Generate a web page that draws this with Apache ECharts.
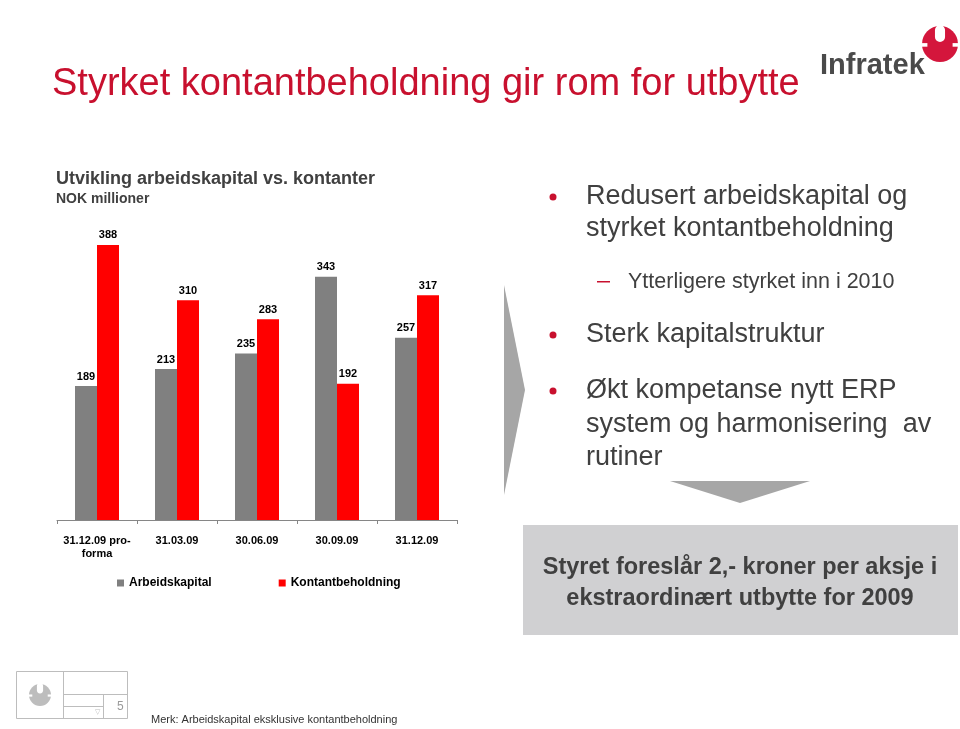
<!DOCTYPE html>
<html>
<head>
<meta charset="utf-8">
<script src="https://cdn.jsdelivr.net/npm/echarts@6/dist/echarts.min.js"></script>
<style>
html,body{margin:0;padding:0;background:#fff;}
#main{width:960px;height:729px;}
</style>
</head>
<body>
<div id="main"></div>
<script>
// ---- data ----
const categories = ['31.12.09 pro-\nforma', '31.03.09', '30.06.09', '30.09.09', '31.12.09'];
const arbeidskapital = [189, 213, 235, 343, 257];
const kontantbeholdning = [388, 310, 283, 192, 317];
const seriesNames = ['Arbeidskapital', 'Kontantbeholdning'];

const FONT = '"Liberation Sans", Arial, sans-serif';
const TXT = '#404040';
const RED = '#c8102e';

function txt(x, y, text, size, opts) {
  opts = opts || {};
  return {
    type: 'text', x: x, y: y, silent: true,
    style: Object.assign({
      text: text, fontFamily: FONT, fontSize: size, fill: opts.fill || TXT,
      fontWeight: opts.bold ? 'bold' : 'normal',
      align: opts.align || 'left', verticalAlign: 'middle'
    }, opts.style || {})
  };
}
function bullet(x, y) {
  return { type: 'circle', silent: true, shape: { cx: x, cy: y, r: 3.5 }, style: { fill: RED } };
}
function emblem(cx, cy, r, color) {
  return [
    { type: 'circle', silent: true, shape: { cx: cx, cy: cy, r: r }, style: { fill: color } },
    { type: 'rect', silent: true, shape: { x: cx - r * 0.28, y: cy - r - 1, width: r * 0.56, height: r * 0.95, r: r * 0.28 }, style: { fill: '#fff' } },
    { type: 'rect', silent: true, shape: { x: cx - r * 1.05, y: cy - r * 0.05, width: r * 0.35, height: r * 0.2 }, style: { fill: '#fff' } },
    { type: 'rect', silent: true, shape: { x: cx + r * 0.7, y: cy - r * 0.05, width: r * 0.35, height: r * 0.2 }, style: { fill: '#fff' } }
  ];
}

const graphics = [
  // slide title
  txt(52, 85, 'Styrket kontantbeholdning gir rom for utbytte', 38, { fill: RED }),
  // logo
  txt(820, 66, 'Infratek', 29, { bold: true, fill: '#4a4a4a' }),
  ...emblem(940, 44, 18, '#d4163c'),
  // chart header
  txt(56, 179, 'Utvikling arbeidskapital vs. kontanter', 18, { bold: true }),
  txt(56, 199, 'NOK millioner', 14, { bold: true }),
  // right-hand arrow
  { type: 'polygon', silent: true, shape: { points: [[504, 285], [525, 390], [504, 495]] }, style: { fill: '#a6a6a6' } },
  // bullets
  bullet(553, 197),
  txt(586, 197, 'Redusert arbeidskapital og', 27),
  txt(586, 229, 'styrket kontantbeholdning', 27),
  { type: 'rect', silent: true, shape: { x: 597, y: 281, width: 13, height: 1.5 }, style: { fill: RED } },
  txt(628, 282, 'Ytterligere styrket inn i 2010', 21.5),
  bullet(553, 335),
  txt(586, 335, 'Sterk kapitalstruktur', 27),
  bullet(553, 391),
  txt(586, 391, 'Økt kompetanse nytt ERP', 27),
  txt(586, 425, 'system og harmonisering  av', 27),
  txt(586, 458, 'rutiner', 27),
  // down arrow
  { type: 'polygon', silent: true, shape: { points: [[670, 481], [810, 481], [740, 503]] }, style: { fill: '#a6a6a6' } },
  // grey box
  { type: 'rect', silent: true, shape: { x: 523, y: 525, width: 435, height: 110 }, style: { fill: '#d0d0d2' } },
  txt(740, 568, 'Styret foreslår 2,- kroner per aksje i', 23.5, { bold: true, align: 'center' }),
  txt(740, 599, 'ekstraordinært utbytte for 2009', 23.5, { bold: true, align: 'center' }),
  // footer
  { type: 'rect', silent: true, shape: { x: 16.5, y: 671.5, width: 111, height: 47 }, style: { fill: 'none', stroke: '#bdbdbd', lineWidth: 1 } },
  { type: 'line', silent: true, shape: { x1: 63.5, y1: 671, x2: 63.5, y2: 719 }, style: { stroke: '#bdbdbd', lineWidth: 1 } },
  { type: 'line', silent: true, shape: { x1: 64, y1: 694.5, x2: 128, y2: 694.5 }, style: { stroke: '#bdbdbd', lineWidth: 1 } },
  { type: 'line', silent: true, shape: { x1: 64, y1: 706.5, x2: 103, y2: 706.5 }, style: { stroke: '#bdbdbd', lineWidth: 1 } },
  { type: 'line', silent: true, shape: { x1: 103.5, y1: 695, x2: 103.5, y2: 719 }, style: { stroke: '#bdbdbd', lineWidth: 1 } },
  ...emblem(40, 695, 11, '#bdbdbd'),
  txt(97, 712, '▽', 7, { fill: '#bdbdbd', align: 'center' }),
  txt(117, 707, '5', 12, { fill: '#9a9a9a' }),
  txt(151, 720, 'Merk: Arbeidskapital eksklusive kontantbeholdning', 11, { fill: '#333333' })
];

const chart = echarts.init(document.getElementById('main'), null, { renderer: 'canvas' });
const labelStyle = { show: true, position: 'top', distance: 4, color: '#000', fontFamily: FONT, fontSize: 11, fontWeight: 'bold' };
chart.setOption({
  animation: false,
  backgroundColor: '#ffffff',
  textStyle: { fontFamily: FONT },
  grid: { left: 57, right: 503, top: 236.4, bottom: 209, containLabel: false },
  legend: {
    left: 117, top: 577, padding: 0, itemWidth: 7, itemHeight: 7, itemGap: 67, icon: 'rect',
    textStyle: { fontFamily: FONT, fontSize: 12, fontWeight: 'bold', color: '#000' },
    data: seriesNames
  },
  xAxis: {
    type: 'category', data: categories,
    axisLine: { lineStyle: { color: '#868686', width: 1 } },
    axisTick: { show: true, length: 4, lineStyle: { color: '#868686' } },
    axisLabel: { color: '#000', fontFamily: FONT, fontSize: 11, fontWeight: 'bold', margin: 14, lineHeight: 13, interval: 0 }
  },
  yAxis: { type: 'value', min: 0, max: 400, show: false, splitLine: { show: false } },
  series: [
    { name: seriesNames[0], type: 'bar', data: arbeidskapital, itemStyle: { color: '#808080' },
      barGap: '0%', barCategoryGap: '45%', label: labelStyle },
    { name: seriesNames[1], type: 'bar', data: kontantbeholdning, itemStyle: { color: '#ff0000' },
      barGap: '0%', barCategoryGap: '45%', label: labelStyle }
  ],
  graphic: graphics
});
</script>
</body>
</html>
